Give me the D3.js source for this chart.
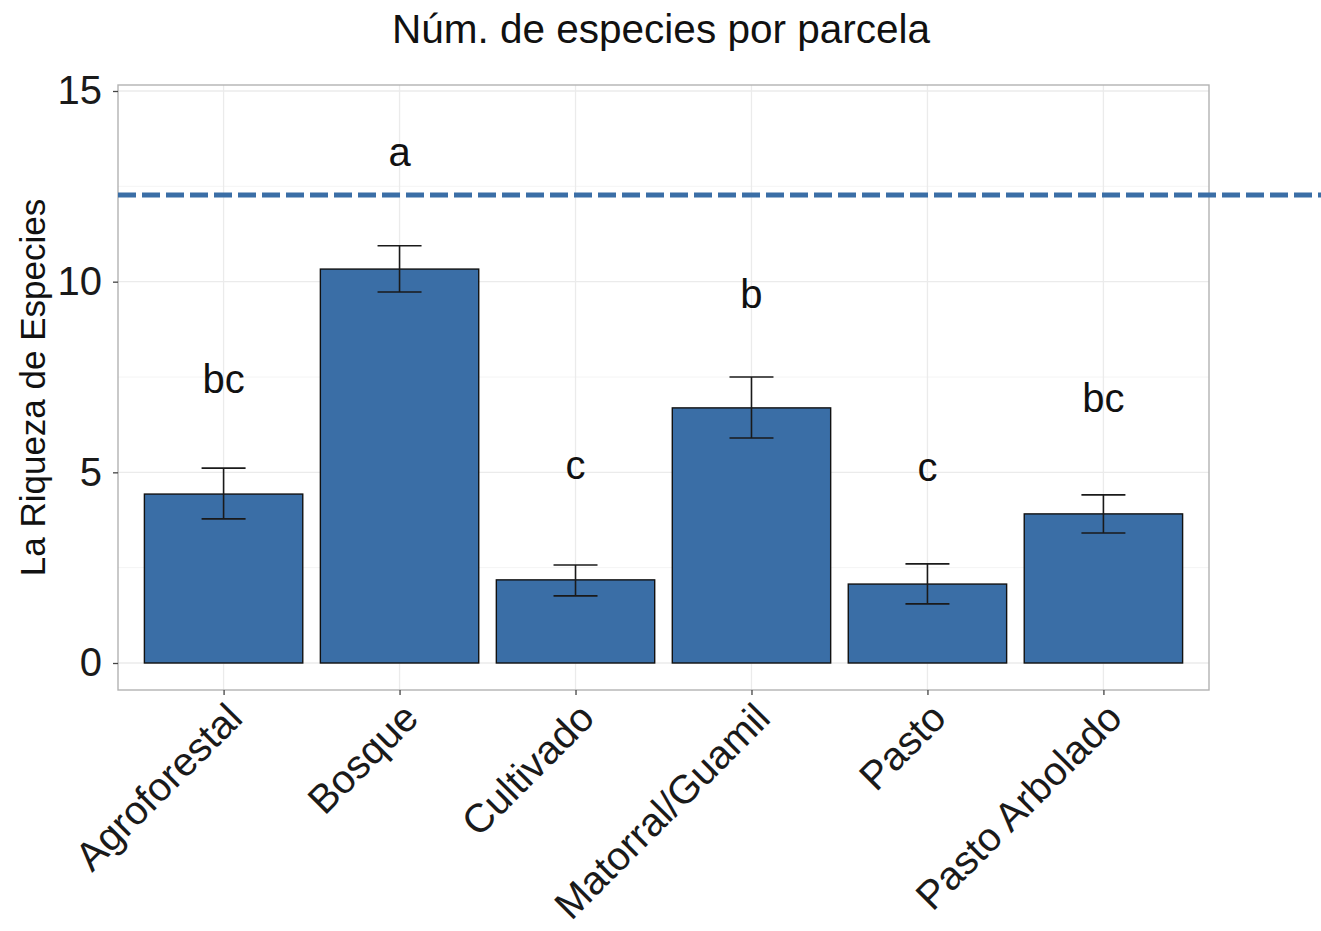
<!DOCTYPE html>
<html>
<head>
<meta charset="utf-8">
<script src="https://cdn.jsdelivr.net/npm/d3@7"></script>
<style>
  html, body { margin: 0; padding: 0; background: #fff; }
  svg { display: block; font-family: "Liberation Sans", Arial, Helvetica, sans-serif; }
</style>
</head>
<body>
<svg id="chart" width="1321" height="931"></svg>
<script>
// ---- data ----
const categories = ["Agroforestal", "Bosque", "Cultivado", "Matorral/Guamil", "Pasto", "Pasto Arbolado"];
const means      = [4.43, 10.33, 2.18, 6.69, 2.07, 3.91];
const errLow     = [3.78, 9.73, 1.76, 5.90, 1.55, 3.41];
const errHigh    = [5.11, 10.94, 2.57, 7.50, 2.60, 4.41];
const groupLetters = ["bc", "a", "c", "b", "c", "bc"];
const letterY    = [7.08, 13.03, 4.83, 9.31, 4.77, 6.58];
const refLine    = 12.27;
const yTicks     = [0, 5, 10, 15];
const yMinorTicks = [2.5, 7.5, 12.5];
const titleText  = "Núm. de especies por parcela";
const yTitleText = "La Riqueza de Especies";

// ---- layout ----
const W = 1321, H = 931;
const panel = { left: 118, right: 1209, top: 85, bottom: 690 };
const barColor = "#3a6ea6";

const svg = d3.select("#chart");

const x = d3.scalePoint().domain(categories).range([panel.left, panel.right]).padding(0.6);
const step = x.step();
const barW = step * 0.9;
const capW = step * 0.25;

const y = d3.scaleLinear().domain([0, 15]).range([663, 91]);

// panel background
svg.append("rect")
  .attr("x", panel.left).attr("y", panel.top)
  .attr("width", panel.right - panel.left).attr("height", panel.bottom - panel.top)
  .attr("fill", "#fff");

// grid
const grid = svg.append("g");
grid.selectAll(".minor").data(yMinorTicks).enter().append("line")
  .attr("x1", panel.left).attr("x2", panel.right)
  .attr("y1", d => y(d)).attr("y2", d => y(d))
  .attr("stroke", "#f4f4f4").attr("stroke-width", 1);
grid.selectAll(".majorY").data(yTicks).enter().append("line")
  .attr("x1", panel.left).attr("x2", panel.right)
  .attr("y1", d => y(d)).attr("y2", d => y(d))
  .attr("stroke", "#ebebeb").attr("stroke-width", 1.3);
grid.selectAll(".majorX").data(categories).enter().append("line")
  .attr("x1", d => x(d)).attr("x2", d => x(d))
  .attr("y1", panel.top).attr("y2", panel.bottom)
  .attr("stroke", "#ebebeb").attr("stroke-width", 1.3);

// bars
svg.append("g").selectAll("rect").data(categories).enter().append("rect")
  .attr("x", d => x(d) - barW / 2)
  .attr("width", barW)
  .attr("y", (d, i) => y(means[i]))
  .attr("height", (d, i) => y(0) - y(means[i]))
  .attr("fill", barColor)
  .attr("stroke", "#111")
  .attr("stroke-width", 1.4);

// error bars
const eb = svg.append("g").attr("stroke", "#1a1a1a").attr("stroke-width", 1.6).attr("fill", "none");
categories.forEach((c, i) => {
  const cx = x(c);
  eb.append("line").attr("x1", cx).attr("x2", cx).attr("y1", y(errLow[i])).attr("y2", y(errHigh[i]));
  eb.append("line").attr("x1", cx - capW / 2).attr("x2", cx + capW / 2).attr("y1", y(errHigh[i])).attr("y2", y(errHigh[i]));
  eb.append("line").attr("x1", cx - capW / 2).attr("x2", cx + capW / 2).attr("y1", y(errLow[i])).attr("y2", y(errLow[i]));
});

// letters
svg.append("g").selectAll("text").data(categories).enter().append("text")
  .attr("x", d => x(d))
  .attr("y", (d, i) => y(letterY[i]))
  .attr("text-anchor", "middle")
  .attr("font-size", 40)
  .attr("fill", "#111")
  .text((d, i) => groupLetters[i]);

// panel border
svg.append("rect")
  .attr("x", panel.left).attr("y", panel.top)
  .attr("width", panel.right - panel.left).attr("height", panel.bottom - panel.top)
  .attr("fill", "none").attr("stroke", "#b3b3b3").attr("stroke-width", 1.4);

// reference dashed line
svg.append("line")
  .attr("x1", panel.left).attr("x2", W)
  .attr("y1", y(refLine)).attr("y2", y(refLine))
  .attr("stroke", barColor).attr("stroke-width", 5)
  .attr("stroke-dasharray", "18,6");

// y axis
const yAxis = d3.axisLeft(y).tickValues(yTicks).tickSize(5).tickPadding(11).tickFormat(d3.format("d"));
const gy = svg.append("g").attr("transform", `translate(${panel.left},0)`).call(yAxis);
gy.select(".domain").remove();
gy.selectAll(".tick line").attr("stroke", "#444").attr("stroke-width", 1.3);
gy.selectAll(".tick text").attr("font-size", 40).attr("fill", "#1a1a1a")
  .attr("font-family", "'Liberation Sans', Arial, sans-serif");

// x axis
const xAxis = d3.axisBottom(x).tickSize(5).tickPadding(0);
const gx = svg.append("g").attr("transform", `translate(0,${panel.bottom})`).call(xAxis);
gx.select(".domain").remove();
gx.selectAll(".tick line").attr("stroke", "#444").attr("stroke-width", 1.3);
gx.selectAll(".tick text")
  .attr("font-size", 40).attr("fill", "#1a1a1a")
  .attr("font-family", "'Liberation Sans', Arial, sans-serif")
  .attr("text-anchor", "end")
  .attr("x", 0).attr("y", 0)
  .attr("dy", "0.72em")
  .attr("transform", "translate(0,10) rotate(-45)");

// title
svg.append("text")
  .attr("x", 661).attr("y", 43)
  .attr("text-anchor", "middle")
  .attr("font-size", 40.5)
  .attr("fill", "#111")
  .text(titleText);

// y title
svg.append("text")
  .attr("transform", `translate(45,${(panel.top + panel.bottom) / 2}) rotate(-90)`)
  .attr("text-anchor", "middle")
  .attr("font-size", 35)
  .attr("fill", "#111")
  .text(yTitleText);
</script>
</body>
</html>
